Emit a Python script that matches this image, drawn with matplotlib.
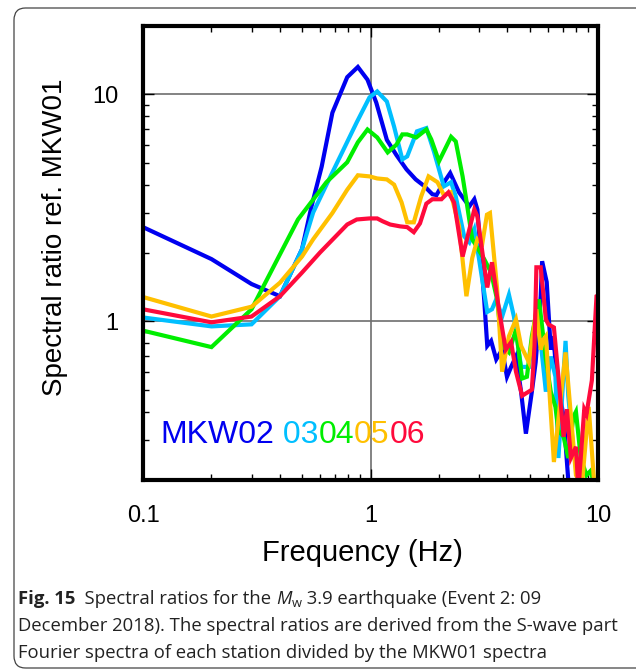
import matplotlib
matplotlib.use("Agg")
import matplotlib.pyplot as plt
from matplotlib.patches import FancyBboxPatch
from matplotlib.ticker import LogLocator, NullFormatter, FixedLocator, FixedFormatter

# ---- spectral ratio data (frequency in Hz, ratio relative to MKW01) ----
f_mkw02 = [0.1, 0.2, 0.3, 0.4, 0.5, 0.55, 0.61, 0.68, 0.79, 0.88, 0.97, 1.06, 1.18,
           1.3, 1.44, 1.58, 1.72, 1.87, 1.95, 2.07, 2.24, 2.45, 2.72, 2.86, 2.95,
           3.16, 3.26, 3.39, 3.57, 3.79, 3.98, 4.15, 4.36, 4.59, 4.82, 5.12, 5.32,
           5.6, 5.68, 5.95, 6.2, 6.37, 6.58, 7.06, 7.4, 7.9, 8.5, 9.2, 10.0]
r_mkw02 = [2.6, 1.88, 1.46, 1.29, 2.08, 3.2, 4.8, 8.3, 11.9, 13.2, 11.6, 9.2, 6.3,
           5.4, 4.67, 4.22, 3.95, 3.63, 3.6, 4.0, 4.5, 3.7, 3.21, 3.45, 3.11,
           1.25, 0.78, 0.82, 0.68, 0.75, 0.57, 0.63, 0.70, 0.49, 0.32, 0.49, 0.66,
           1.29, 1.84, 1.49, 0.75, 0.86, 0.57, 0.38, 0.2, 0.17, 0.17, 0.17, 0.17]

f_mkw03 = [0.1, 0.2, 0.3, 0.4, 0.5, 0.56, 0.68, 0.87, 0.99, 1.07, 1.18, 1.27, 1.38,
           1.45, 1.6, 1.76, 1.9, 2.1, 2.26, 2.37, 2.58, 2.72, 2.86, 3.0, 3.26, 3.42,
           3.57, 3.79, 4.06, 4.27, 4.59, 4.97, 5.36, 5.6, 5.9, 6.2, 6.5, 6.7, 7.2,
           7.4, 7.8, 8.3, 9.0, 10.0]
r_mkw03 = [1.04, 0.95, 0.97, 1.29, 2.08, 3.02, 4.53, 7.53, 9.7, 10.3, 9.3, 7.2, 5.17,
           5.33, 6.87, 7.1, 5.6, 3.93, 4.1, 3.55, 2.37, 2.23, 2.54, 1.88, 1.1, 1.13,
           1.25, 1.05, 1.31, 1.05, 0.63, 0.63, 1.11, 0.81, 0.49, 0.70, 0.57, 0.25, 0.82,
           0.47, 0.27, 0.18, 0.18, 0.18]

f_mkw04 = [0.1, 0.2, 0.3, 0.48, 0.64, 0.79, 0.88, 0.97, 1.07, 1.19, 1.30, 1.38, 1.45,
           1.59, 1.76, 1.85, 2.0, 2.26, 2.37, 2.54, 2.64, 2.8, 3.16, 3.39, 3.6, 3.79,
           4.06, 4.36, 4.64, 4.87, 5.12, 5.5, 5.65, 5.9, 6.2, 6.5, 6.7, 7.06, 7.4,
           7.8, 8.0, 8.4, 8.9, 9.3, 9.6, 10.0]
r_mkw04 = [0.91, 0.77, 1.13, 2.81, 4.1, 5.02, 6.15, 7.0, 6.46, 5.55, 6.0, 6.66, 6.66,
           6.46, 7.0, 6.33, 5.07, 6.5, 6.2, 4.35, 3.4, 2.3, 1.88, 1.64, 1.25, 0.78,
           0.73, 0.92, 0.56, 0.57, 0.86, 1.25, 0.99, 0.68, 0.49, 0.42, 0.33, 0.31, 0.25,
           0.38, 0.40, 0.25, 0.21, 0.22, 0.19, 0.19]

f_mkw05 = [0.1, 0.2, 0.3, 0.4, 0.5, 0.56, 0.68, 0.79, 0.88, 0.99, 1.07, 1.18, 1.27,
           1.37, 1.45, 1.55, 1.67, 1.8, 1.97, 2.1, 2.25, 2.45, 2.64, 2.8, 2.95, 3.1,
           3.25, 3.35, 3.6, 3.79, 4.06, 4.36, 4.59, 4.97, 5.36, 5.6, 5.75, 5.9, 6.4,
           7.2, 8.0, 8.5, 9.1, 9.6, 10.0]
r_mkw05 = [1.28, 1.05, 1.16, 1.48, 1.93, 2.3, 3.0, 3.8, 4.4, 4.35, 4.26, 4.22, 4.0,
           3.34, 2.73, 2.73, 3.55, 4.35, 4.1, 3.6, 3.7, 2.62, 1.29, 1.9, 2.3, 2.2,
           2.95, 3.0, 1.4, 0.6, 0.86, 1.02, 0.78, 0.66, 1.13, 0.75, 0.83, 0.86, 0.24,
           0.73, 0.21, 0.19, 0.42, 0.2, 0.2]

f_mkw06 = [0.1, 0.2, 0.3, 0.4, 0.5, 0.6, 0.79, 0.87, 0.99, 1.07, 1.13, 1.22, 1.35,
           1.45, 1.55, 1.65, 1.76, 1.87, 2.05, 2.2, 2.33, 2.54, 2.86, 2.95, 3.26, 3.42,
           3.67, 3.93, 4.15, 4.36, 4.64, 5.12, 5.26, 5.36, 5.6, 5.9, 6.05, 6.4, 6.7,
           7.06, 7.3, 7.6, 8.0, 8.2, 8.7, 8.9, 9.4, 9.85, 10.0]
r_mkw06 = [1.13, 0.99, 1.05, 1.29, 1.64, 2.01, 2.67, 2.81, 2.84, 2.84, 2.76, 2.67, 2.62,
           2.6, 2.47, 2.7, 3.3, 3.45, 3.45, 3.7, 3.34, 1.93, 3.11, 2.9, 1.41, 1.82,
           1.13, 0.75, 0.81, 0.6, 0.47, 0.5, 0.78, 1.73, 1.73, 1.02, 0.97, 0.94, 0.57,
           0.31, 0.41, 0.25, 0.28, 0.18, 0.41, 0.39, 0.55, 1.29, 1.3]

stations = ["MKW02", "03", "04", "05", "06"]
colors = ["#0000F0", "#00BFFF", "#00EE00", "#FFC000", "#FF0A3C"]
freqs = [f_mkw02, f_mkw03, f_mkw04, f_mkw05, f_mkw06]
ratios = [r_mkw02, r_mkw03, r_mkw04, r_mkw05, r_mkw06]

x_ticks = [0.1, 1, 10]
x_ticklabels = ["0.1", "1", "10"]
y_ticks = [1, 10]
y_ticklabels = ["1", "10"]

caption_lines = [
    [("Fig. 15", "bold", "normal", 0), ("  Spectral ratios for the ", "normal", "normal", 0),
     ("M", "normal", "italic", 0), ("w", "normal", "normal", -1),
     (" 3.9 earthquake (Event 2: 09", "normal", "normal", 0)],
    [("December 2018). The spectral ratios are derived from the S-wave part", "normal", "normal", 0)],
    [("Fourier spectra of each station divided by the MKW01 spectra", "normal", "normal", 0)],
]

# ---- figure ----
W, H = 636, 670
fig = plt.figure(figsize=(W / 100, H / 100), dpi=100)
plt.rcParams["font.family"] = ["Liberation Sans", "DejaVu Sans"]


def fx(x):
    return x / W


def fy(y):
    return 1 - y / H


# rounded frame around figure and caption
frame = FancyBboxPatch((fx(14), fy(668)), fx(660) - fx(14), fy(8) - fy(668),
                       boxstyle="round,pad=0,rounding_size=0.018",
                       transform=fig.transFigure, fill=False,
                       edgecolor="#444444", linewidth=0.9, clip_on=False)
fig.patches.append(frame)

ax = fig.add_axes([fx(143), fy(480), (598 - 143) / W, (480 - 26) / H])
for f, r, c in zip(freqs, ratios, colors):
    ax.plot(f, r, color=c, lw=3.0, solid_joinstyle="miter", zorder=3)

ax.set_xscale("log")
ax.set_yscale("log")
ax.set_xlim(0.1, 10)
ax.set_ylim(0.2, 20)
ax.xaxis.set_major_locator(FixedLocator(x_ticks))
ax.xaxis.set_major_formatter(FixedFormatter(x_ticklabels))
ax.yaxis.set_major_locator(FixedLocator(y_ticks))
ax.yaxis.set_major_formatter(FixedFormatter(y_ticklabels))
ax.xaxis.set_minor_locator(LogLocator(base=10, subs=range(2, 10)))
ax.yaxis.set_minor_locator(LogLocator(base=10, subs=range(2, 10)))
ax.xaxis.set_minor_formatter(NullFormatter())
ax.yaxis.set_minor_formatter(NullFormatter())
ax.tick_params(which="both", direction="in", top=True, right=True, width=1.0,
               color="black")
ax.tick_params(which="major", length=8, labelsize=17, pad=18)
ax.tick_params(which="minor", length=4)
ax.grid(True, which="major", color="#6e6e6e", lw=1.2, zorder=1)
for s in ax.spines.values():
    s.set_linewidth(3.0)
    s.set_zorder(5)

fig.text(fx(55), fy(237), "Spectral ratio ref. MKW01", rotation=90,
         ha="center", va="center", fontsize=20)
fig.text(fx(362), fy(553), "Frequency (Hz)", ha="center", va="center", fontsize=21)

# station key in matching colours
fig.canvas.draw()
renderer = fig.canvas.get_renderer()
xpos = 160
for i, (name, c) in enumerate(zip(stations, colors)):
    label = name if i != 1 else " " + name
    t = fig.text(fx(xpos), fy(443), label, color=c, fontsize=23,
                 ha="left", va="baseline")
    bb = t.get_window_extent(renderer)
    xpos = bb.x1

# caption
cap_family = ["Open Sans", "DejaVu Sans"]
cap_size = 13.3
line_y = [604, 631, 658]
for pieces, yb in zip(caption_lines, line_y):
    xpos = 18
    for text, weight, style, sub in pieces:
        size = cap_size if sub == 0 else cap_size * 0.7
        ybase = yb + (3 if sub else 0)
        t = fig.text(fx(xpos), fy(ybase), text, fontsize=size, fontweight=weight,
                     fontstyle=style, family=cap_family, ha="left", va="baseline",
                     color="#222222")
        bb = t.get_window_extent(renderer)
        xpos = bb.x1

fig.savefig("out.png", dpi=100)
